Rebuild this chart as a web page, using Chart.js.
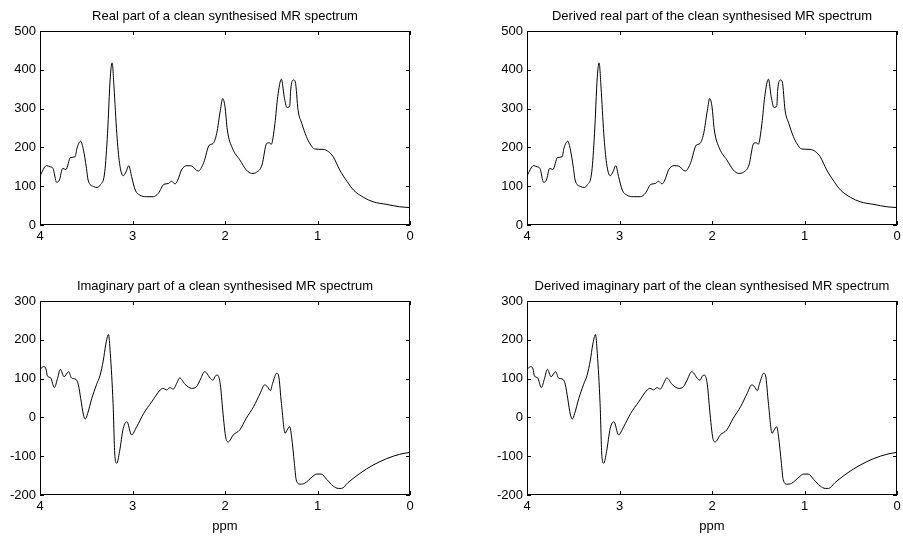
<!DOCTYPE html>
<html>
<head>
<meta charset="utf-8">
<script src="https://cdn.jsdelivr.net/npm/chart.js@4/dist/chart.umd.min.js"></script>
<style>
  html, body { margin: 0; padding: 0; background: #fff; overflow: hidden; }
  #wrap { position: relative; width: 903px; height: 536px; overflow: hidden; }
  canvas { position: absolute; }
</style>
</head>
<body>
<div id="wrap">
  <canvas id="c1" width="451" height="270" style="left:0;top:0"></canvas>
  <canvas id="c2" width="451" height="270" style="left:487px;top:0"></canvas>
  <canvas id="c3" width="451" height="266" style="left:0;top:270px"></canvas>
  <canvas id="c4" width="451" height="266" style="left:487px;top:270px"></canvas>
</div>
<script>
// real part (ppm, value)
const realPpm = [4.0, 3.93, 3.89, 3.86, 3.82, 3.79, 3.755, 3.72, 3.67, 3.62, 3.6, 3.56, 3.53, 3.5, 3.48,
  3.42, 3.38, 3.35, 3.3, 3.27, 3.24, 3.22, 3.2, 3.17, 3.14, 3.1, 3.07, 3.04, 3.01, 2.97, 2.92, 2.85,
  2.775, 2.72, 2.66, 2.61, 2.58, 2.54, 2.51, 2.47, 2.41, 2.36, 2.29, 2.23, 2.17, 2.13, 2.09, 2.05,
  2.025, 2.0, 1.975, 1.92, 1.84, 1.77, 1.71, 1.66, 1.6, 1.55, 1.52, 1.5, 1.46, 1.43, 1.39, 1.36,
  1.33, 1.3, 1.29, 1.26, 1.24, 1.21, 1.17, 1.12, 1.08, 1.03, 0.94, 0.88, 0.83, 0.76, 0.68, 0.61,
  0.5, 0.4, 0.25, 0.11, 0.0];
const realValues = [127, 153, 150, 146, 110, 116, 146, 143, 174, 176, 198, 216, 193, 150, 116,
  99, 97, 103, 137, 236, 382, 418, 356, 236, 159, 127, 137, 153, 125, 90, 77, 73,
  73, 82, 105, 107, 113, 106, 116, 142, 153, 152, 139, 161, 206, 210, 236, 296,
  326, 305, 245, 198, 168, 142, 133, 136, 155, 210, 212, 208, 262, 331, 376, 331,
  303, 307, 348, 374, 369, 296, 262, 228, 209, 196, 195, 189, 176, 142, 112, 90,
  71, 60, 53, 47, 45];

// imaginary part (ppm, value)
const imagPpm = [4.0, 3.96, 3.935, 3.92, 3.885, 3.845, 3.81, 3.78, 3.74, 3.69, 3.66, 3.61, 3.585, 3.56,
  3.53, 3.51, 3.485, 3.44, 3.39, 3.35, 3.315, 3.29, 3.26, 3.24, 3.21, 3.19, 3.17, 3.14, 3.1, 3.06,
  3.01, 2.955, 2.88, 2.79, 2.7, 2.67, 2.63, 2.595, 2.56, 2.52, 2.49, 2.43, 2.36, 2.31, 2.27, 2.22,
  2.2, 2.16, 2.13, 2.1, 2.08, 2.05, 2.025, 1.99, 1.965, 1.91, 1.84, 1.77, 1.69, 1.62, 1.57, 1.54,
  1.51, 1.485, 1.44, 1.42, 1.39, 1.35, 1.33, 1.3, 1.28, 1.25, 1.23, 1.19, 1.14, 1.06, 1.01, 0.96,
  0.9, 0.83, 0.775, 0.74, 0.67, 0.54, 0.4, 0.25, 0.11, 0.0];
const imagValues = [124, 131, 125, 107, 102, 77, 101, 124, 105, 118, 102, 98, 84, 49,
  6, -4, 10, 49, 84, 109, 148, 187, 214, 165, 36, -101, -118, -88, -28, -11,
  -45, -24, 10, 41, 71, 75, 71, 77, 73, 89, 102, 85, 75, 79, 96, 118,
  115, 101, 96, 108, 109, 84, 19, -54, -63, -45, -32, -2, 28, 62, 84, 79,
  69, 88, 114, 107, 36, -41, -33, -24, -50, -118, -161, -172, -170, -154, -146, -146,
  -160, -177, -183, -183, -168, -144, -123, -106, -95, -90];

const xTicks = [0, 1, 2, 3, 4];
const realTicks = [0, 100, 200, 300, 400, 500];
const imagTicks = [-200, -100, 0, 100, 200, 300];

const titles = [
  'Real part of a clean synthesised MR spectrum',
  'Derived real part of the clean synthesised MR spectrum',
  'Imaginary part of a clean synthesised MR spectrum',
  'Derived imaginary part of the clean synthesised MR spectrum'
];

const FONT = 'Arial, "Liberation Sans", sans-serif';

// box round the plot area with short inward ticks, like matlab
const framePlugin = {
  id: 'frame',
  afterDraw(chart) {
    const { ctx, chartArea: a, scales } = chart;
    const len = 4;
    ctx.save();
    ctx.strokeStyle = '#000';
    ctx.lineWidth = 1;
    ctx.strokeRect(Math.round(a.left) + 0.5, Math.round(a.top) + 0.5,
      Math.round(a.width) - 1, Math.round(a.height) - 1);
    ctx.beginPath();
    scales.x.ticks.forEach(t => {
      const px = Math.round(scales.x.getPixelForValue(t.value)) + 0.5;
      ctx.moveTo(px, a.top); ctx.lineTo(px, a.top + len);
      ctx.moveTo(px, a.bottom); ctx.lineTo(px, a.bottom - len);
    });
    scales.y.ticks.forEach(t => {
      const py = Math.round(scales.y.getPixelForValue(t.value)) + 0.5;
      ctx.moveTo(a.left, py); ctx.lineTo(a.left + len, py);
      ctx.moveTo(a.right, py); ctx.lineTo(a.right - len, py);
    });
    ctx.stroke();
    ctx.restore();
  }
};

function makePlot(id, title, ppm, values, yTicks, showXLabel) {
  const pts = ppm.map((p, i) => ({ x: p, y: values[i] }));
  return new Chart(document.getElementById(id), {
    type: 'line',
    data: {
      datasets: [{
        data: pts,
        borderColor: '#000',
        borderWidth: 1,
        pointRadius: 0,
        cubicInterpolationMode: 'monotone',
        fill: false
      }]
    },
    options: {
      responsive: false,
      animation: false,
      events: [],
      layout: { padding: { left: 0, right: 41, top: 0, bottom: 0 } },
      plugins: {
        legend: { display: false },
        tooltip: { enabled: false },
        title: {
          display: true,
          fullSize: false, // centre over the plot box only
          text: title,
          color: '#000',
          font: { family: FONT, size: 13, weight: 'normal' },
          padding: { top: 9, bottom: 6.5 }
        }
      },
      scales: {
        x: {
          type: 'linear',
          reverse: true,
          min: 0,
          max: 4,
          afterBuildTicks: s => { s.ticks = xTicks.map(v => ({ value: v })); },
          afterFit: s => { s.height = showXLabel ? 41 : 45; },
          grid: { display: false, drawTicks: false },
          border: { display: false },
          ticks: { color: '#000', padding: 4, maxRotation: 0, font: { family: FONT, size: 13 } },
          title: {
            display: showXLabel,
            text: 'ppm',
            color: '#000',
            font: { family: FONT, size: 13 },
            padding: { top: 0, bottom: 2 }
          }
        },
        y: {
          min: yTicks[0],
          max: yTicks[yTicks.length - 1],
          afterBuildTicks: s => { s.ticks = yTicks.map(v => ({ value: v })); },
          afterFit: s => { s.width = 40; },
          grid: { display: false, drawTicks: false },
          border: { display: false },
          ticks: { color: '#000', padding: 4, font: { family: FONT, size: 13 } }
        }
      }
    },
    plugins: [framePlugin]
  });
}

makePlot('c1', titles[0], realPpm, realValues, realTicks, false);
makePlot('c2', titles[1], realPpm, realValues, realTicks, false);
makePlot('c3', titles[2], imagPpm, imagValues, imagTicks, true);
makePlot('c4', titles[3], imagPpm, imagValues, imagTicks, true);
</script>
</body>
</html>
